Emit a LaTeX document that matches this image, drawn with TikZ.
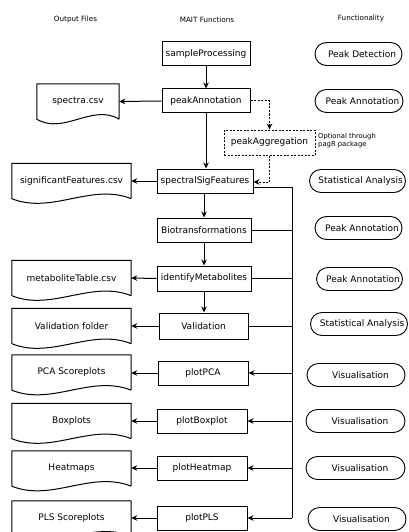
\documentclass[tikz,border=0pt]{standalone}
\usepackage{fontspec}
\setmainfont{DejaVu Sans}
\usetikzlibrary{arrows.meta}
\newcommand{\docwave}[2]{\draw[docline] (#1.south east) -- (#1.north east) -- (#1.north west) -- (#1.south west) .. controls +(#2,16) and +(-#2,-16) .. (#1.south east);}
\begin{document}
\begin{tikzpicture}[x=1pt,y=-1pt,
  fn/.style={draw, line width=1pt, minimum height=24pt, inner sep=1pt, font=\fontsize{9}{10}\selectfont},
  dfn/.style={fn, dash pattern=on 2pt off 1.5pt},
  term/.style={draw, line width=0.9pt, rounded corners=11.5pt, minimum height=23pt, inner sep=1pt, font=\fontsize{9}{10}\selectfont},
  doc/.style={minimum height=35pt, inner sep=0pt, font=\fontsize{9}{10}\selectfont},
  docline/.style={line width=1pt, line join=round},
  hdr/.style={font=\fontsize{7.2}{8}\selectfont},
  note/.style={font=\fontsize{6.8}{8}\selectfont, align=left, anchor=west, inner sep=0pt},
  ln/.style={line width=1pt},
  arr/.style={ln, -{Stealth[length=6pt,width=5.5pt]}},
  darr/.style={arr, dash pattern=on 2pt off 1.5pt}]
\useasboundingbox (0,0) rectangle (409,532);
\clip (0,0) rectangle (409,532);
% headers
\node[hdr] (h1) at (75.5,20) {Output Files};
\node[hdr] (h2) at (207,20) {MAIT Functions};
\node[hdr] (h3) at (361,19) {Functionality};
% functions
\node[fn, minimum width=88pt] (sp) at (206,54) {sampleProcessing};
\node[fn, minimum width=88pt] (pa) at (206,101) {peakAnnotation};
\node[dfn, minimum width=91pt, minimum height=25pt] (pg) at (269.5,142.5) {peakAggregation};
\node[note] (nt) at (318,140.5) {Optional through\\pagR package};
\node[fn, minimum width=96pt] (ss) at (205,181) {spectralSigFeatures};
\node[fn, minimum width=94pt] (bt) at (204,230) {Biotransformations};
\node[fn, minimum width=94pt, minimum height=25pt] (im) at (204,278.5) {identifyMetabolites};
\node[fn, minimum width=89pt, minimum height=26pt] (va) at (203.5,326) {Validation};
\node[fn, minimum width=90pt] (pc) at (203,373) {plotPCA};
\node[fn, minimum width=90pt] (pb) at (202,421) {plotBoxplot};
\node[fn, minimum width=90pt] (ph) at (202,468) {plotHeatmap};
\node[fn, minimum width=90pt] (pp) at (202,518) {plotPLS};
% documents
\node[doc, minimum width=82pt] (d1) at (78,101.5) {spectra.csv};
\node[doc, minimum width=119pt] (d2) at (71.5,181) {significantFeatures.csv};
\node[doc, minimum width=119pt] (d3) at (71.5,278) {metaboliteTable.csv};
\node[doc, minimum width=119pt] (d4) at (71.5,326) {Validation folder};
\node[doc, minimum width=119pt] (d5) at (71.5,372.5) {PCA Scoreplots};
\node[doc, minimum width=119pt] (d6) at (71.5,421) {Boxplots};
\node[doc, minimum width=119pt] (d7) at (71.5,468.5) {Heatmaps};
\node[doc, minimum width=119pt] (d8) at (71.5,518.5) {PLS Scoreplots};
\docwave{d1}{27}
\foreach \d in {d2,d3,d4,d5,d6,d7,d8} {\docwave{\d}{40}}
% functionality
\node[term, minimum width=87pt] (t1) at (358.5,54) {\hspace*{7pt}Peak Detection};
\node[term, minimum width=88pt] (t2) at (359,101) {\hspace*{7pt}Peak Annotation};
\node[term, minimum width=96pt] (t3) at (357.5,181) {\hspace*{6pt}Statistical Analysis};
\node[term, minimum width=87pt] (t4) at (358.5,228) {\hspace*{7pt}Peak Annotation};
\node[term, minimum width=86pt] (t5) at (359.5,279) {\hspace*{7pt}Peak Annotation};
\node[term, minimum width=97pt] (t6) at (359,324) {\hspace*{6pt}Statistical Analysis};
\node[term, minimum width=98pt] (t7) at (356,375) {\hspace*{9pt}Visualisation};
\node[term, minimum width=99pt] (t8) at (355.5,421) {\hspace*{9pt}Visualisation};
\node[term, minimum width=99pt] (t9) at (355.5,468) {\hspace*{9pt}Visualisation};
\node[term, minimum width=98pt] (t10) at (357,519) {\hspace*{9pt}Visualisation};
% main flow
\draw[arr] (sp) -- (pa);
\draw[arr] (pa.south) -- (pa.south |- ss.north);
\draw[arr] (ss.south -| bt.north) -- (bt.north);
\draw[arr] (bt) -- (im);
\draw[arr] (im.south) -- (im.south |- va.north);
% optional branch
\draw[darr] (pa.east) -| (pg.north);
\draw[darr] (pg.south) |- ([yshift=-1pt]ss.east);
% outputs
\draw[arr] (pa.west) -- (d1.east);
\draw[arr] (ss.west) -- (d2.east);
\draw[arr] (im.west) -- (d3.east);
\draw[arr] (va.west) -- (d4.east);
\draw[arr] (pc.west) -- (d5.east |- pc.west);
\draw[arr] (pb.west) -- (d6.east);
\draw[arr] (ph.west) -- (d7.east |- ph.west);
\draw[arr] (pp.west) -- (d8.east |- pp.west);
% bus
\coordinate (bus) at (292,0);
\draw[ln] ([yshift=-6pt]ss.east) -- ([yshift=-6pt]ss.east -| bus) -- (pp.east -| bus);
\draw[arr] (pp.east -| bus) -- (pp.east);
\draw[ln] (bt.east) -- (bt.east -| bus);
\draw[ln] (im.east) -- (im.east -| bus);
\draw[ln] (va.east) -- (va.east -| bus);
\draw[arr] (pc.east -| bus) -- (pc.east);
\draw[arr] (pb.east -| bus) -- (pb.east);
\draw[arr] (ph.east -| bus) -- (ph.east);
\end{tikzpicture}
\end{document}
